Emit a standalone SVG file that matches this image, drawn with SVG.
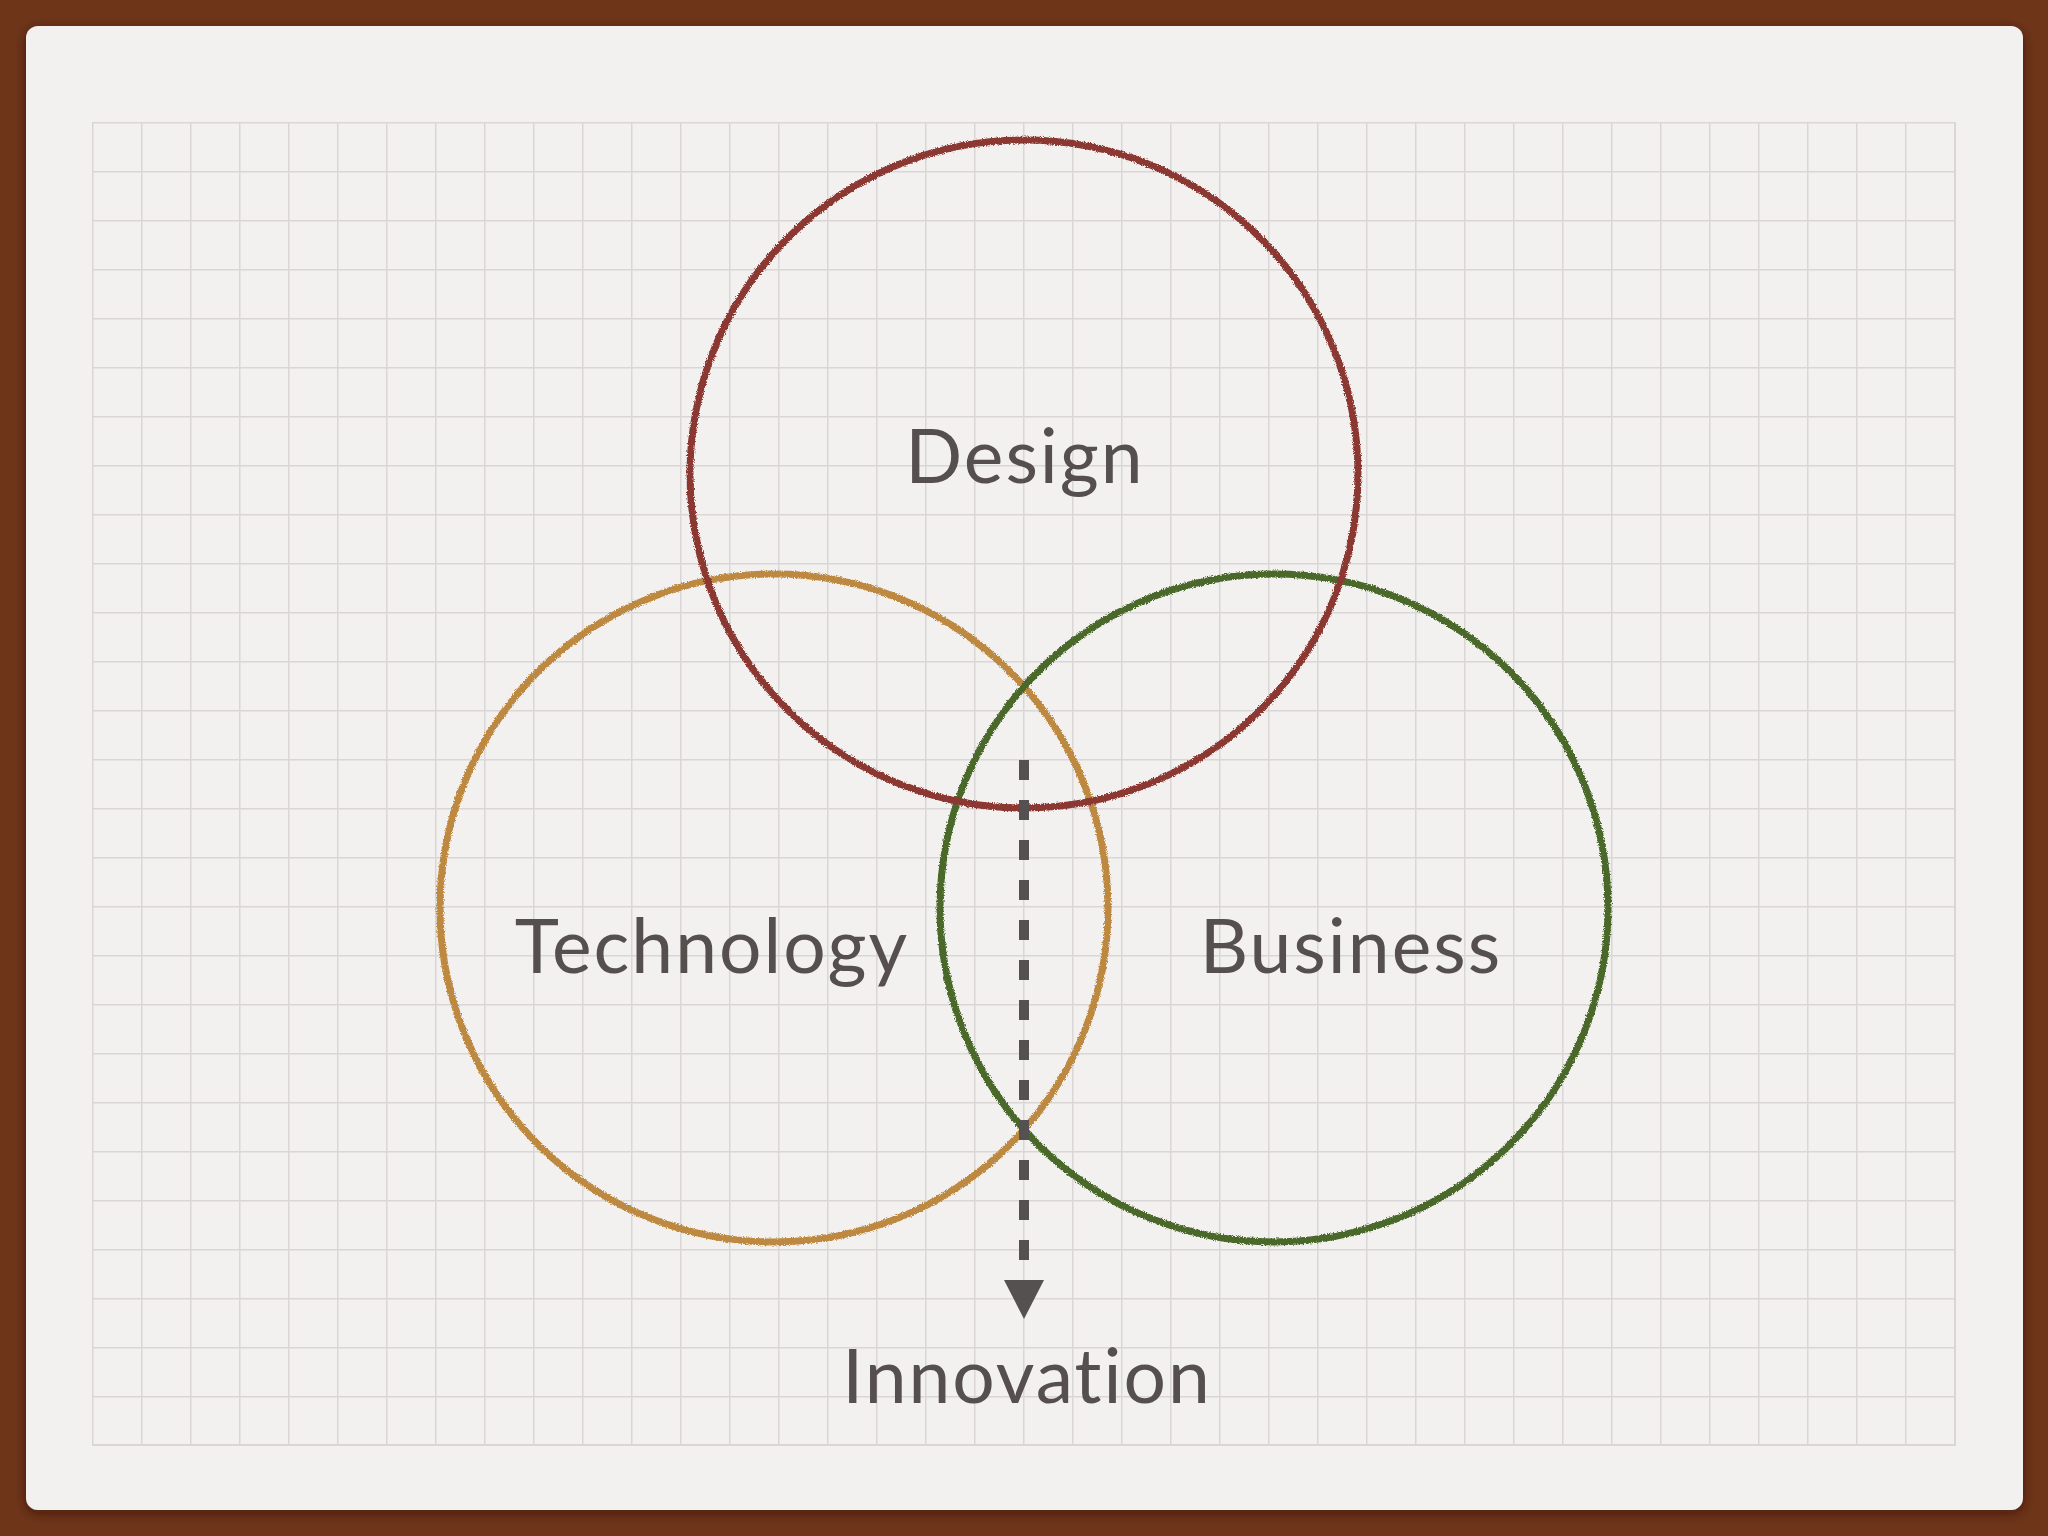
<svg xmlns="http://www.w3.org/2000/svg" width="2048" height="1536" viewBox="0 0 2048 1536">
  <defs>
    <filter id="chalk" x="-5%" y="-5%" width="110%" height="110%">
      <feTurbulence type="fractalNoise" baseFrequency="0.9" numOctaves="2" seed="3" result="n"/>
      <feDisplacementMap in="SourceGraphic" in2="n" scale="4" xChannelSelector="R" yChannelSelector="G"/>
    </filter>
    <filter id="shadow" x="-5%" y="-5%" width="110%" height="110%">
      <feGaussianBlur in="SourceAlpha" stdDeviation="6"/>
      <feOffset dx="0" dy="3" result="b"/>
      <feFlood flood-color="#2a1206" flood-opacity="0.6"/>
      <feComposite in2="b" operator="in"/>
      <feMerge><feMergeNode/><feMergeNode in="SourceGraphic"/></feMerge>
    </filter>
    <pattern id="grid" x="92" y="122" width="49" height="49" patternUnits="userSpaceOnUse">
      <path d="M0.75 0 V49 M0 0.75 H49" fill="none" stroke="#d9d6d5" stroke-width="1.5"/>
    </pattern>
    <style>
      .ring { fill: none; stroke-width: 7; filter: url(#chalk); }
      .label { font-family: Lato, "Noto Sans", "Liberation Sans", sans-serif; font-size: 75px; letter-spacing: 2px; fill: #55504e; text-anchor: middle; }
    </style>
  </defs>

  <rect x="0" y="0" width="2048" height="1536" fill="#6e3519"/>
  <rect x="26" y="26" width="1997" height="1484" rx="12" fill="#f3f1f0" filter="url(#shadow)"/>
  <rect x="92" y="122" width="1864" height="1324" fill="url(#grid)"/>
  <path d="M1955.25 122 V1445.5 M92 1444.75 H1956" fill="none" stroke="#d9d6d5" stroke-width="1.5"/>

  <g id="node-technology">
    <circle class="ring" cx="774" cy="908" r="334" stroke="#bd883f"/>
  </g>
  <g id="node-business">
    <circle class="ring" cx="1274" cy="908" r="334" stroke="#486829"/>
  </g>
  <g id="node-design">
    <circle class="ring" cx="1024" cy="474" r="334" stroke="#8b3832"/>
  </g>

  <g id="connectors">
    <line x1="1024" y1="760" x2="1024" y2="1280" stroke="#555150" stroke-width="10" stroke-dasharray="20 20"/>
    <path d="M1004 1280 H1044 L1024 1319 Z" fill="#555150"/>
  </g>

  <g id="labels">
    <text class="label" x="1025" y="483">Design</text>
    <text class="label" x="712" y="973">Technology</text>
    <text class="label" x="1351" y="973">Business</text>
    <text class="label" x="1027" y="1403">Innovation</text>
  </g>
</svg>
